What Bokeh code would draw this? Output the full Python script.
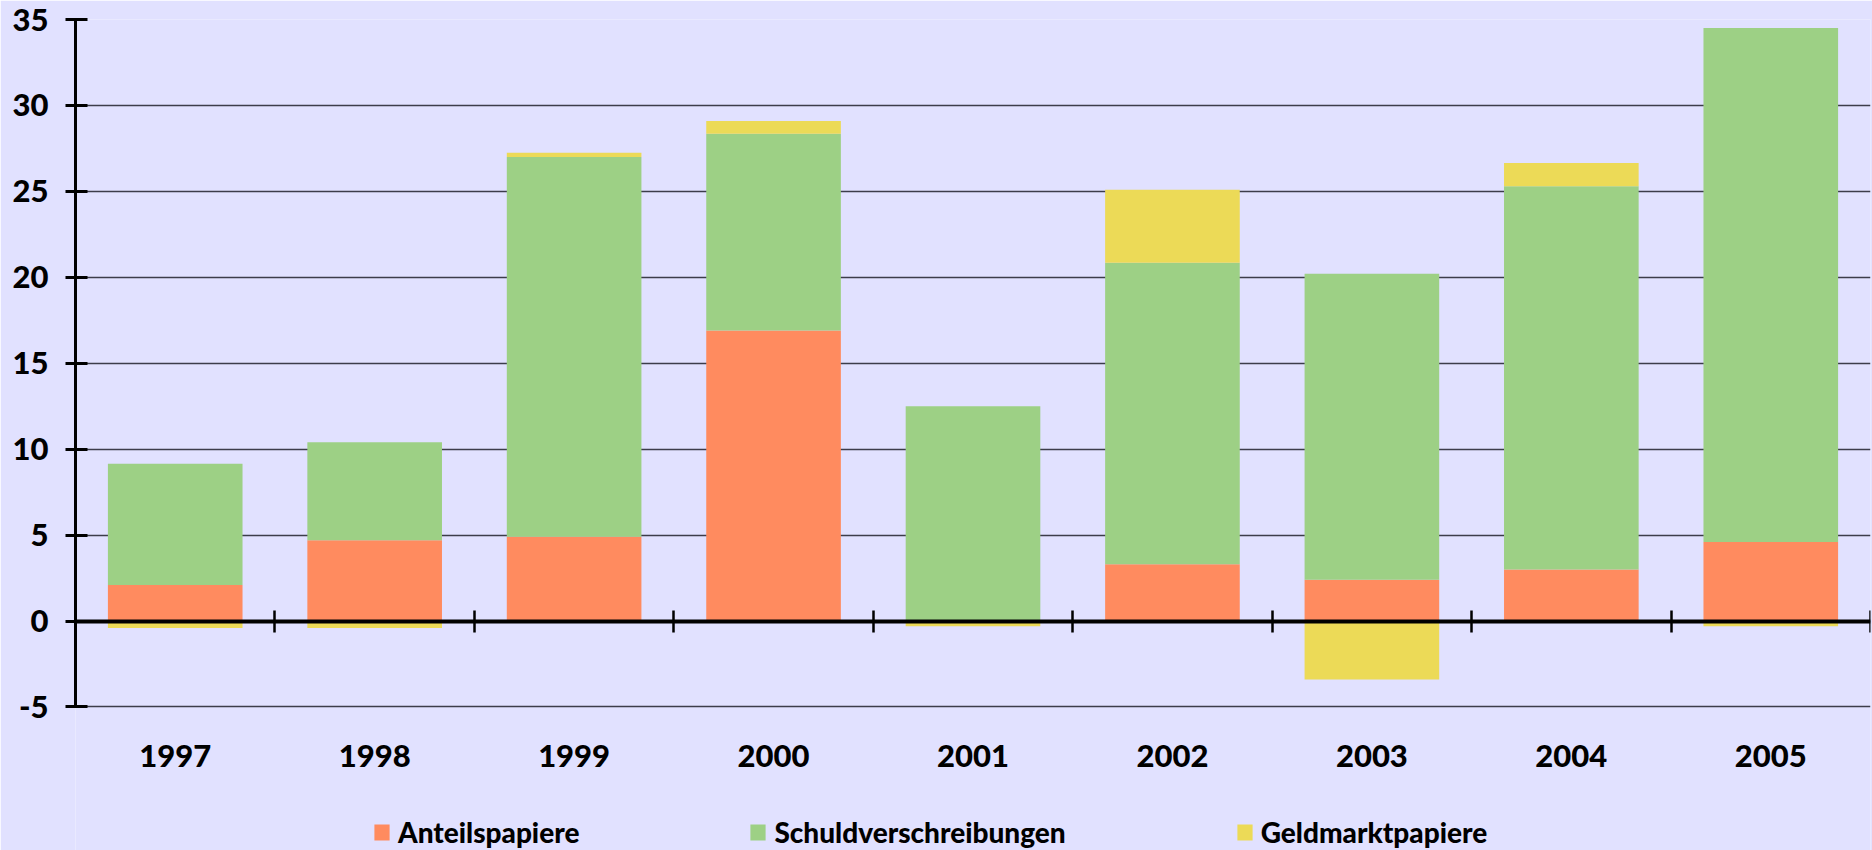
from bokeh.plotting import figure
from bokeh.models import (Range1d, LinearAxis, FixedTicker, Legend, LegendItem)
from bokeh.embed import file_html
from bokeh.resources import INLINE

# ---- data ----
years = ["1997", "1998", "1999", "2000", "2001", "2002", "2003", "2004", "2005"]
anteilspapiere = [2.1, 4.7, 4.9, 16.9, 0.0, 3.3, 2.4, 3.0, 4.6]
schuldverschreibungen = [7.05, 5.7, 22.1, 11.45, 12.5, 17.55, 17.8, 22.3, 29.9]
geldmarktpapiere = [-0.4, -0.4, 0.25, 0.75, -0.3, 4.25, -3.4, 1.35, -0.3]
y_ticks = [-5, 0, 5, 10, 15, 20, 25, 30, 35]
y_tick_labels = ["-5", "0", "5", "10", "15", "20", "25", "30", "35"]

series_names = ["Anteilspapiere", "Schuldverschreibungen", "Geldmarktpapiere"]
colors = ["#FF8B5F", "#9DD085", "#ECDA57"]
BG = "#E1E1FF"
FONT = "Lato Black, Lato"

x = list(range(1, len(years) + 1))
a_top = anteilspapiere
s_bottom = anteilspapiere
s_top = [a + s for a, s in zip(anteilspapiere, schuldverschreibungen)]
g_bottom = [t if g > 0 else 0 for t, g in zip(s_top, geldmarktpapiere)]
g_top = [t + g if g > 0 else g for t, g in zip(s_top, geldmarktpapiere)]

Y_MIN, Y_MAX = -5, 35
# frame extends below the axis range so that labels and legend live inside it
p = figure(width=1872, height=850, output_backend="svg", toolbar_location=None,
           x_range=Range1d(0.5, len(years) + 0.5), y_range=Range1d(-13.35, Y_MAX),
           x_axis_location=None,
           min_border_left=75, min_border_right=2, min_border_top=19,
           min_border_bottom=0)
p.background_fill_color = BG
p.border_fill_color = BG
p.outline_line_color = None

W = 0.675
r1 = p.vbar(x=x, bottom=0, top=a_top, width=W, fill_color=colors[0], line_color=None)
r2 = p.vbar(x=x, bottom=s_bottom, top=s_top, width=W, fill_color=colors[1], line_color=None)
r3 = p.vbar(x=x, bottom=g_bottom, top=g_top, width=W, fill_color=colors[2], line_color=None)

# grid
p.xgrid.visible = False
p.ygrid.ticker = FixedTicker(ticks=y_ticks)
p.ygrid.grid_line_color = "#3c3c4a"
p.ygrid.grid_line_width = 1.5

# y axis
ya = p.yaxis[0]
ya.ticker = FixedTicker(ticks=y_ticks)
ya.major_label_overrides = {t: s for t, s in zip(y_ticks, y_tick_labels)}
ya.bounds = (Y_MIN, Y_MAX)
ya.axis_line_color = "black"
ya.axis_line_width = 3
ya.major_tick_line_color = "black"
ya.major_tick_line_width = 3
ya.major_tick_in = 12
ya.major_tick_out = 10
ya.minor_tick_line_color = None
ya.major_label_standoff = 17
ya.major_label_text_font = FONT
ya.major_label_text_font_style = "bold"
ya.major_label_text_font_size = "31px"
ya.major_label_text_color = "black"

# category labels axis, fixed at the bottom of the value range
xa = LinearAxis(fixed_location=Y_MIN, ticker=FixedTicker(ticks=x))
xa.major_label_overrides = {i: y for i, y in zip(x, years)}
xa.axis_line_color = None
xa.major_tick_line_color = None
xa.minor_tick_line_color = None
xa.major_tick_in = 0
xa.major_tick_out = 0
xa.major_label_standoff = 38
xa.major_label_text_font = FONT
xa.major_label_text_font_style = "bold"
xa.major_label_text_font_size = "31px"
xa.major_label_text_color = "black"
p.add_layout(xa, "below")

# zero line axis with ticks at category boundaries
za = LinearAxis(fixed_location=0,
                ticker=FixedTicker(ticks=[i + 0.5 for i in x]))
za.axis_line_color = "black"
za.axis_line_width = 4
za.major_tick_line_color = "black"
za.major_tick_line_width = 2.5
za.major_tick_in = 11
za.major_tick_out = 11
za.minor_tick_line_color = None
za.major_label_text_font_size = "0px"
za.major_label_text_alpha = 0
p.add_layout(za, "below")

legend = Legend(items=[LegendItem(label=n, renderers=[r]) for n, r in zip(series_names, [r1, r2, r3])],
                orientation="horizontal", location=(297, 1))
legend.background_fill_alpha = 0
legend.border_line_color = None
legend.label_text_font = FONT
legend.label_text_font_style = "bold"
legend.label_text_font_size = "28px"
legend.label_text_color = "black"
legend.glyph_width = 19
legend.glyph_height = 20
legend.label_standoff = 7
legend.spacing = 169
legend.padding = 0
legend.margin = 0
p.add_layout(legend, "center")

html = file_html(p, INLINE)
html = html.replace("<head>", "<head><style>html,body{overflow:hidden}</style>", 1)
open("out.html", "w").write(html)
